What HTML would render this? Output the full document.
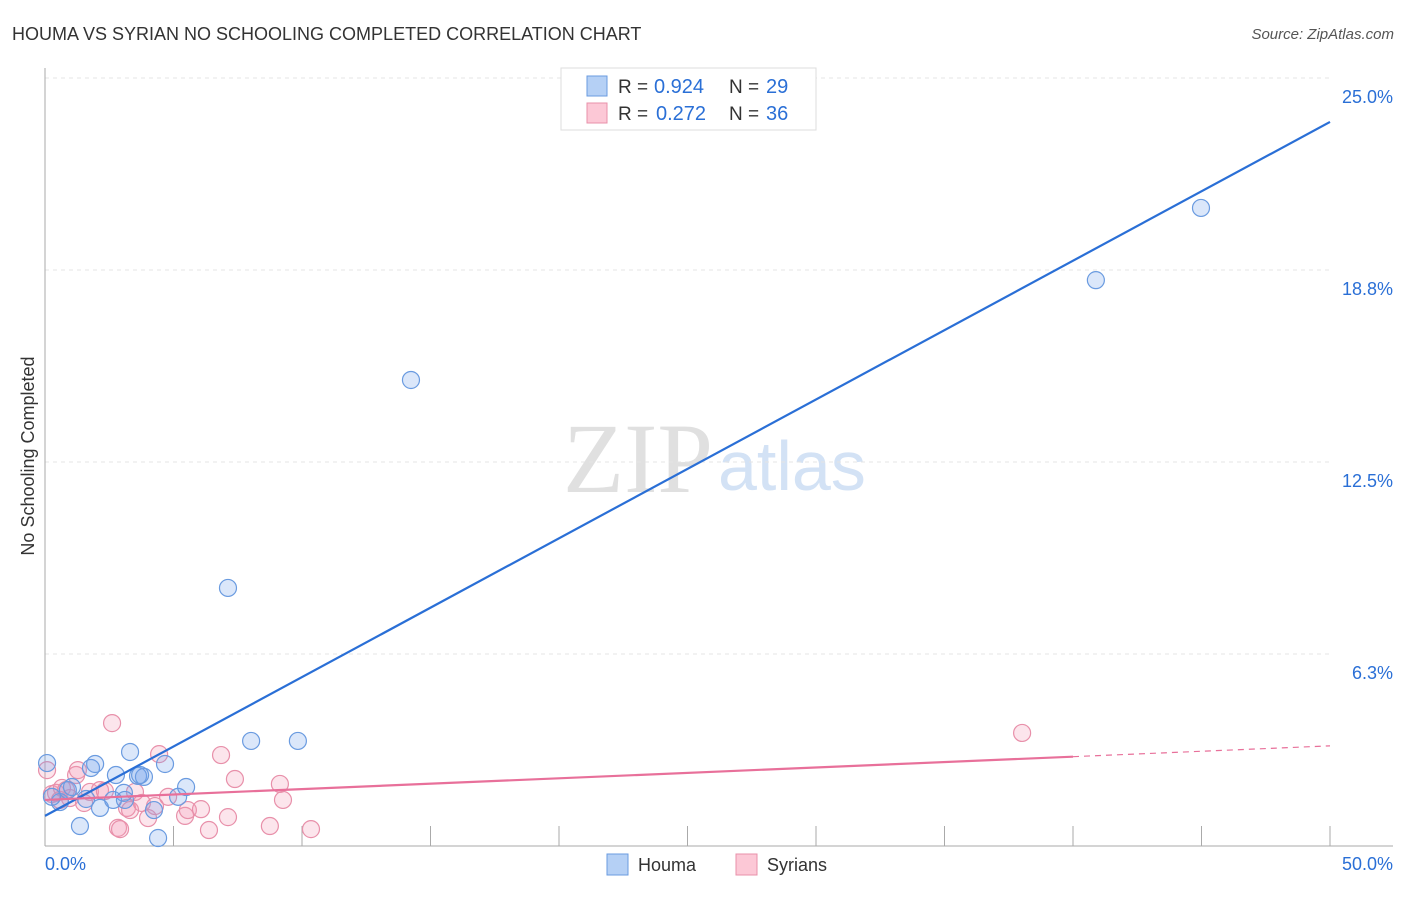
<!DOCTYPE html>
<html><head><meta charset="utf-8"><style>
body{margin:0;background:#fff;font-family:"Liberation Sans",sans-serif;}
</style></head><body>
<svg width="1406" height="892" id="chart" font-family="Liberation Sans, sans-serif">
<text x="12" y="40" font-size="18" fill="#333">HOUMA VS SYRIAN NO SCHOOLING COMPLETED CORRELATION CHART</text>
<text x="1394" y="39" font-size="15" fill="#555" text-anchor="end" font-style="italic">Source: ZipAtlas.com</text>
<text x="713" y="492" font-size="100" fill="#e0e0e0" text-anchor="end" style="font-family:'Liberation Serif',serif">ZIP</text>
<text x="718" y="490" font-size="70" fill="#d3e2f5">atlas</text>
<text transform="translate(34,456) rotate(-90)" font-size="18" fill="#333" text-anchor="middle">No Schooling Completed</text>
<g id="grid"></g><g id="pts"></g><g id="lines"></g>
<g>
<rect x="561" y="68" width="255" height="62" fill="#fff" stroke="#ddd"/>
<rect x="587" y="76" width="20" height="20" fill="#b5d0f5" stroke="#6a9be0"/>
<rect x="587" y="103" width="20" height="20" fill="#fcc8d6" stroke="#e890aa"/>
<text x="618" y="93" font-size="19" fill="#333">R =</text>
<text x="654" y="93" font-size="20" fill="#2a6fd6">0.924</text>
<text x="729" y="93" font-size="19" fill="#333">N =</text>
<text x="766" y="93" font-size="20" fill="#2a6fd6">29</text>
<text x="618" y="120" font-size="19" fill="#333">R =</text>
<text x="656" y="120" font-size="20" fill="#2a6fd6">0.272</text>
<text x="729" y="120" font-size="19" fill="#333">N =</text>
<text x="766" y="120" font-size="20" fill="#2a6fd6">36</text>
</g>
<g>
<rect x="607" y="854" width="21" height="21" fill="#b5d0f5" stroke="#6a9be0"/>
<text x="638" y="871" font-size="18" fill="#333">Houma</text>
<rect x="736" y="854" width="21" height="21" fill="#fcc8d6" stroke="#e890aa"/>
<text x="767" y="871" font-size="18" fill="#333">Syrians</text>
</g>
</svg>
<script>
const yTicks=[6.3,12.5,18.8,25.0];
const yTickVals=[6.25,12.5,18.75,25];
const xTickLabels=["0.0%","50.0%"];
const houmaX=[0.08,0.58,0.89,1.36,1.79,1.95,2.14,2.65,2.76,3.07,3.11,3.31,3.62,3.85,4.24,4.40,4.67,5.18,5.49,7.12,8.02,9.84,14.24,40.89,44.98,0.27,1.05,1.60,3.70];
const houmaY=[2.70,1.43,1.82,0.65,2.54,2.67,1.24,1.50,2.31,1.73,1.50,3.06,2.28,2.25,1.17,0.26,2.67,1.60,1.92,8.40,3.42,3.42,15.17,18.42,20.77,1.60,1.92,1.53,2.31];
const syrX=[0.08,0.27,0.43,0.66,0.97,1.21,1.28,1.52,1.75,2.14,2.33,2.61,2.84,2.92,3.19,3.31,3.50,3.77,4.01,4.28,4.44,4.79,5.45,5.56,6.07,6.38,6.85,7.12,7.39,8.75,9.14,9.26,10.35,38.02,0.58,0.82];
const syrY=[2.47,1.69,1.73,1.89,1.56,2.31,2.47,1.40,1.76,1.82,1.79,4.00,0.59,0.55,1.24,1.17,1.76,1.40,0.91,1.30,2.99,1.60,0.98,1.17,1.20,0.52,2.96,0.94,2.18,0.65,2.02,1.50,0.55,3.68,1.50,1.82];
const houmaFit=[0.98,23.57];
const syrFit=[1.5,3.26];
const X=v=>45+v*25.7, Y=v=>846-v*30.72;
const NS="http://www.w3.org/2000/svg";
function mk(p,t,a){const e=document.createElementNS(NS,t);for(const k in a)e.setAttribute(k,a[k]);p.appendChild(e);return e;}
const grid=document.getElementById('grid');
yTickVals.forEach((v,i)=>{
 const l=mk(grid,'line',{x1:45,x2:1330,y1:Y(v),y2:Y(v),stroke:'#e4e4e4','stroke-dasharray':'4,4'});
 
 
 const t=mk(grid,'text',{x:1393,y:Y(v)+25,'font-size':18,fill:'#2a6fd6','text-anchor':'end'});
 t.textContent=yTicks[i].toFixed(1)+'%';
 
 
});
const ax=mk(grid,'line',{x1:45,x2:45,y1:68,y2:846,stroke:'#aaa'});


const bx=mk(grid,'line',{x1:45,x2:1393,y1:846,y2:846,stroke:'#aaa'});


for(let i=1;i<=10;i++){
 const t=mk(grid,'line',{x1:X(i*5),x2:X(i*5),y1:826,y2:846,stroke:'#aaa'});
 
 
}
[[0,'start',45],[50,'end',1393]].forEach((d,i)=>{
 const t=mk(grid,'text',{x:d[2],y:870,'font-size':18,fill:'#2a6fd6','text-anchor':d[1]});
 t.textContent=xTickLabels[i];
 
 
});
const pts=document.getElementById('pts');
syrX.forEach((v,i)=>{
 const c=mk(pts,'circle',{cx:X(v),cy:Y(syrY[i]),r:8.5,fill:'rgba(245,150,180,0.25)',stroke:'#e890aa','stroke-width':1.2});
 
 
});
houmaX.forEach((v,i)=>{
 const c=mk(pts,'circle',{cx:X(v),cy:Y(houmaY[i]),r:8.5,fill:'rgba(110,160,235,0.25)',stroke:'#6a9be0','stroke-width':1.2});
 
 
});
const lines=document.getElementById('lines');
const hl=mk(lines,'line',{x1:X(0),y1:Y(houmaFit[0]),x2:X(50),y2:Y(houmaFit[1]),stroke:'#2a6fd6','stroke-width':2.2});


const sAt=x=>syrFit[0]+(syrFit[1]-syrFit[0])*x/50;
const sl=mk(lines,'line',{x1:X(0),y1:Y(sAt(0)),x2:X(40),y2:Y(sAt(40)),stroke:'#e8709a','stroke-width':2.2});


const sd=mk(lines,'line',{x1:X(40),y1:Y(sAt(40)),x2:X(50),y2:Y(sAt(50)),stroke:'#e8709a','stroke-width':1.2,'stroke-dasharray':'6,5'});


</script>
</body></html>
